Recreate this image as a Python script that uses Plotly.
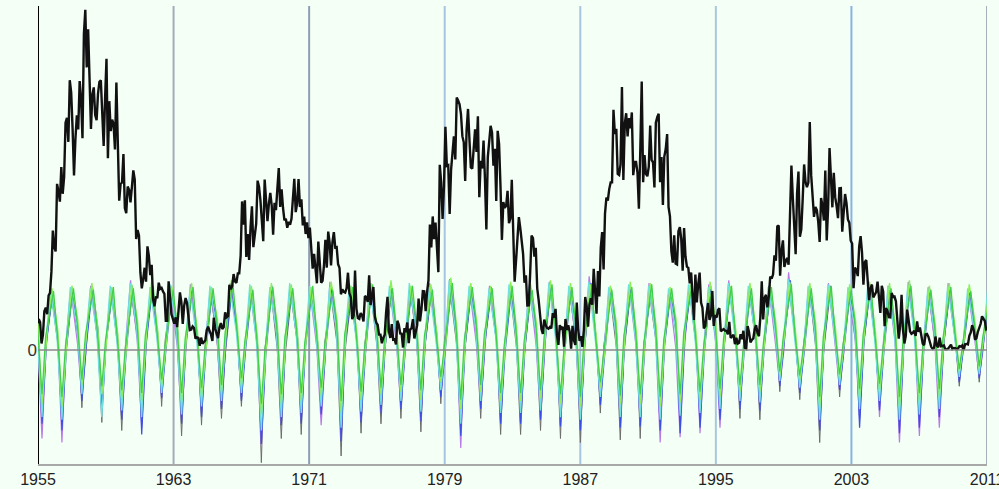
import plotly.graph_objects as go

# ---------------- data ----------------
# Monthly sunspot numbers, Jan 1955 .. Dec 2010 (black line)
sunspots = [
    23.1, 20.8, 4.9, 11.3, 28.9, 31.7, 26.7, 40.7, 42.7, 58.5, 89.2, 76.9,
    73.6, 124.0, 118.4, 110.7, 136.6, 116.6, 129.1, 169.6, 173.2, 155.3, 201.3, 192.1,
    165.0, 130.2, 157.4, 175.2, 164.6, 200.7, 187.2, 158.0, 235.8, 253.8, 210.9, 239.4,
    202.5, 164.9, 190.7, 196.0, 175.3, 171.5, 191.4, 200.2, 201.2, 181.5, 152.3, 187.6,
    217.4, 143.1, 185.7, 163.3, 172.0, 168.7, 149.6, 199.6, 145.2, 111.4, 124.0, 125.0,
    146.3, 106.0, 102.2, 122.0, 119.6, 110.2, 121.7, 134.1, 127.2, 82.8, 89.6, 85.6,
    57.9, 46.1, 53.0, 61.4, 51.0, 77.4, 70.2, 55.9, 63.6, 37.7, 32.6, 40.0,
    38.7, 50.3, 45.6, 46.4, 43.7, 42.0, 21.8, 21.8, 51.3, 39.5, 26.9, 23.2,
    19.8, 24.4, 17.1, 29.3, 43.0, 35.9, 19.6, 33.2, 38.8, 35.3, 23.4, 14.9,
    15.3, 17.7, 16.5, 8.6, 9.5, 9.1, 3.1, 9.3, 4.7, 6.1, 7.4, 15.1,
    17.5, 14.2, 11.7, 6.8, 24.1, 15.9, 11.9, 8.9, 16.8, 20.1, 15.8, 17.0,
    28.2, 24.4, 25.3, 48.7, 45.3, 47.7, 56.7, 51.2, 50.2, 57.2, 57.2, 70.4,
    110.9, 93.6, 111.8, 69.5, 86.5, 67.3, 91.5, 107.2, 76.8, 88.2, 94.3, 126.4,
    121.8, 111.9, 92.2, 81.2, 127.2, 110.3, 96.1, 109.3, 117.2, 107.7, 86.0, 109.8,
    104.4, 120.5, 135.8, 106.8, 120.0, 106.0, 96.8, 98.0, 91.3, 95.7, 93.5, 97.9,
    111.5, 127.8, 102.9, 109.5, 127.5, 106.8, 112.5, 93.0, 99.5, 86.6, 95.2, 83.5,
    91.3, 79.0, 60.7, 71.8, 57.5, 49.8, 81.0, 61.4, 50.2, 51.7, 63.2, 82.2,
    61.5, 88.4, 80.1, 63.2, 80.5, 88.0, 76.5, 76.8, 64.0, 61.3, 41.6, 45.3,
    43.4, 42.9, 46.0, 57.7, 42.4, 39.5, 23.1, 25.6, 59.3, 30.7, 23.9, 23.3,
    27.6, 26.0, 21.3, 40.3, 39.5, 36.0, 55.8, 33.6, 40.2, 47.1, 25.0, 20.5,
    18.9, 11.5, 11.5, 5.1, 9.0, 11.4, 28.2, 39.7, 13.9, 9.1, 19.4, 7.8,
    8.1, 4.3, 21.9, 18.8, 12.4, 12.2, 1.9, 16.4, 13.5, 20.6, 5.2, 15.3,
    16.4, 23.1, 8.7, 12.9, 18.6, 38.5, 21.4, 30.1, 44.0, 43.8, 29.1, 43.2,
    51.9, 93.6, 76.5, 99.7, 82.7, 95.1, 70.4, 58.1, 138.2, 125.1, 97.9, 122.7,
    166.6, 137.5, 138.0, 101.5, 134.4, 149.5, 159.4, 142.2, 188.4, 186.2, 183.3, 176.3,
    159.6, 155.0, 126.2, 164.1, 179.9, 157.3, 136.3, 135.4, 155.0, 164.7, 147.9, 174.4,
    114.0, 141.3, 135.5, 156.4, 127.5, 90.0, 143.8, 158.7, 167.3, 162.4, 137.5, 150.1,
    111.2, 163.6, 153.8, 122.0, 82.2, 110.4, 106.1, 107.6, 118.8, 94.7, 98.1, 127.0,
    84.3, 51.0, 66.5, 80.7, 99.2, 91.1, 82.2, 71.8, 50.3, 55.8, 33.3, 33.4,
    57.0, 85.4, 83.5, 69.7, 76.4, 46.1, 37.4, 25.5, 15.7, 12.0, 22.8, 18.7,
    16.5, 15.9, 17.2, 16.2, 27.5, 24.2, 30.7, 11.1, 3.9, 18.6, 16.2, 17.3,
    2.5, 23.2, 15.1, 18.5, 13.7, 1.1, 18.1, 7.4, 3.8, 35.4, 15.2, 6.8,
    10.4, 2.4, 14.7, 39.6, 33.0, 17.4, 33.9, 38.7, 33.9, 60.6, 39.9, 27.1,
    59.0, 40.0, 76.2, 88.0, 60.1, 101.8, 113.8, 111.6, 120.1, 125.1, 125.1, 179.2,
    161.3, 165.1, 131.4, 130.6, 138.5, 196.2, 126.9, 168.9, 176.7, 159.4, 173.0, 165.5,
    177.3, 130.5, 140.3, 140.3, 132.2, 105.4, 149.4, 200.3, 125.2, 145.5, 131.4, 129.7,
    136.9, 167.5, 141.9, 140.0, 121.3, 169.7, 173.7, 176.3, 125.3, 144.1, 108.2, 144.4,
    150.0, 161.1, 106.7, 99.8, 73.8, 65.2, 85.7, 64.5, 63.9, 88.7, 91.8, 82.6,
    59.3, 91.0, 69.8, 62.2, 61.3, 49.8, 57.9, 42.2, 22.4, 56.4, 35.6, 48.9,
    57.8, 35.5, 31.7, 16.1, 17.8, 28.0, 35.1, 22.5, 25.7, 44.0, 18.0, 26.2,
    24.2, 29.9, 31.1, 14.0, 14.5, 15.6, 14.5, 14.3, 11.8, 21.1, 9.0, 10.0,
    11.5, 4.4, 9.2, 4.8, 5.5, 11.8, 8.2, 14.4, 1.6, 0.9, 17.9, 13.3,
    5.7, 7.6, 8.7, 15.5, 18.5, 12.7, 10.4, 24.4, 51.3, 22.8, 39.0, 41.2,
    31.9, 40.3, 54.8, 53.4, 56.3, 70.7, 66.6, 92.2, 92.9, 55.5, 74.0, 81.9,
    62.0, 66.3, 68.8, 63.7, 106.4, 137.7, 113.5, 93.7, 71.5, 116.7, 133.2, 84.6,
    90.1, 112.9, 138.5, 125.5, 121.6, 124.9, 170.1, 130.5, 109.7, 99.4, 106.8, 104.4,
    95.6, 80.6, 113.5, 107.7, 96.6, 134.0, 81.8, 106.4, 150.7, 125.5, 106.5, 132.2,
    114.1, 107.4, 98.4, 120.7, 120.8, 88.3, 99.6, 116.4, 109.6, 97.5, 95.0, 81.6,
    79.5, 46.2, 61.5, 60.0, 55.2, 77.4, 85.0, 72.7, 48.8, 65.6, 67.2, 47.0,
    37.2, 46.0, 48.9, 39.3, 41.5, 43.2, 51.0, 40.9, 27.7, 48.0, 43.5, 17.9,
    31.3, 29.2, 24.5, 24.4, 42.6, 39.6, 39.9, 36.4, 22.1, 8.5, 18.0, 41.2,
    15.3, 4.9, 10.6, 30.2, 22.3, 13.9, 12.2, 12.9, 14.4, 10.5, 21.4, 13.6,
    16.9, 10.6, 4.8, 3.7, 11.7, 12.0, 10.0, 6.2, 2.4, 0.9, 1.7, 10.1,
    3.3, 2.1, 9.3, 2.9, 3.2, 3.4, 0.5, 0.5, 1.1, 2.9, 4.1, 0.8,
    1.5, 1.4, 0.7, 1.2, 2.9, 2.6, 3.5, 0.0, 4.4, 4.6, 4.2, 10.6,
    13.1, 18.6, 15.4, 7.9, 8.8, 13.5, 16.1, 19.6, 25.2, 23.5, 21.6, 14.5,
]
start_year = 1955

# Seasonal-cycle series, 48 cycles: value before each trough (pre), the trough,
# after it (post) and the following peak
cycle_start = 1955.236   # time of first trough (years)
cycle_len = 1.1767       # cycle length (years)

gray_pre = [10,4,12,6,2,8,14,5,9,3,11,7,0,6,12,4,8,2,10,5,13,3,9,6,1,7,11,4,8,2,10,6,12,3,7,9,5,14,8,2,10,6,4,8,11,3,7,10]
gray_trough = [-60,-55,-43,-54,-60,-55,-42,-64,-56,-51,-42,-84,-66,-63,-50,-79,-62,-55,-51,-61,-40,-62,-51,-63,
               -63,-60,-66,-69,-47,-67,-66,-58,-55,-52,-48,-51,-52,-31,-37,-69,-35,-50,-42,-58,-54,-48,-27,-24]
gray_post = [2,-4,6,0,-3,4,8,-2,3,-5,5,1,-6,2,6,-3,4,-2,5,0,7,-4,3,1,-5,2,6,-1,4,-3,5,0,6,-2,3,4,0,8,3,-4,5,1,-2,3,6,-1,2,5]
gray_peak = [38,40,42,40,39,41,43,40,38,42,40,41,39,43,40,38,42,40,41,39,40,42,38,41,
             40,43,39,41,40,42,38,40,41,39,42,40,38,41,43,40,39,42,40,41,38,40,39,37]

purple_pre = [8,12,5,10,14,6,9,3,11,7,13,4,10,8,2,12,6,9,4,11,7,14,5,8,12,3,9,6,10,13,4,8,2,11,6,9,12,5,7,10,3,8,13,6,9,4,11,7]
purple_trough = [-66,-69,-35,-45,-50,-58,-35,-52,-46,-42,-36,-72,-55,-52,-56,-66,-52,-46,-43,-52,-34,-73,-43,-53,
                 -53,-50,-55,-58,-40,-56,-55,-69,-65,-62,-58,-43,-44,-26,-31,-58,-30,-52,-50,-69,-64,-58,-23,-20]
purple_post = [0,5,-2,4,7,-1,3,-4,5,1,6,-3,4,2,-5,6,0,3,-2,5,1,8,-1,2,6,-3,3,0,4,7,-2,2,-4,5,0,3,6,-1,1,4,-3,2,7,0,3,-2,5,1]
purple_peak = [44,46,48,45,52,47,44,49,46,50,45,47,48,44,51,46,49,45,47,50,53,46,48,45,
               49,51,47,55,46,48,50,45,47,49,52,46,48,58,47,50,46,49,48,51,47,50,45,44]

blue_pre = [12,6,9,14,4,10,7,13,5,11,8,2,12,9,6,14,3,10,7,12,5,9,13,4,8,11,6,10,3,12,7,9,14,5,10,6,8,12,4,11,7,13,5,9,6,10,8,12]
blue_trough = [-55,-60,-38,-46,-52,-63,-36,-55,-50,-44,-38,-70,-56,-55,-48,-68,-54,-47,-44,-53,-35,-64,-44,-55,
               -55,-52,-57,-60,-41,-58,-57,-60,-62,-58,-52,-44,-45,-27,-32,-60,-30,-58,-45,-62,-58,-50,-24,-21]
blue_post = [5,0,3,7,-2,4,1,6,-1,5,2,-4,6,3,0,7,-3,4,1,5,-1,3,6,-2,2,5,0,4,-3,6,1,3,7,-1,4,0,2,6,-2,5,1,6,-1,3,0,4,2,6]
blue_peak = [43,45,47,44,48,46,45,47,44,46,45,48,46,44,47,45,48,46,44,47,49,45,47,44,
             46,48,45,50,46,47,49,44,46,48,47,45,46,52,45,48,44,47,46,49,45,47,43,42]

cyan_pre = [15,10,18,12,8,16,11,14,9,17,13,7,15,12,10,18,9,14,11,16,8,13,17,10,12,15,9,14,7,16,11,13,18,9,14,10,12,16,8,15,11,17,9,13,10,14,12,15]
cyan_trough = [-50,-52,-33,-50,-45,-50,-32,-48,-42,-38,-32,-60,-50,-47,-42,-58,-46,-41,-38,-46,-30,-55,-38,-47,
               -47,-45,-50,-52,-35,-50,-50,-52,-49,-47,-44,-38,-39,-23,-28,-52,-26,-44,-38,-52,-48,-44,-20,-18]
cyan_post = [8,3,10,5,1,9,4,7,2,10,6,0,8,5,3,11,2,7,4,9,1,6,10,3,5,8,2,7,0,9,4,6,11,2,7,3,5,9,1,8,4,10,2,6,3,7,5,8]
cyan_peak = [45,47,46,48,50,47,49,46,48,47,49,46,50,48,47,49,46,48,50,47,52,48,46,49,
             47,50,48,51,47,49,48,46,49,47,50,48,47,53,48,49,47,50,48,49,46,48,46,45]

lgreen_pre = [20,14,22,17,12,21,15,19,13,23,18,11,20,16,14,22,12,19,15,21,13,18,22,14,17,20,12,19,10,21,15,18,23,13,19,14,16,21,12,20,15,22,13,18,14,19,16,20]
lgreen_trough = [-40,-42,-26,-33,-36,-38,-26,-38,-34,-31,-26,-48,-40,-38,-34,-46,-37,-33,-31,-37,-24,-44,-31,-38,
                 -38,-36,-40,-42,-28,-40,-40,-42,-39,-37,-35,-31,-31,-19,-22,-42,-21,-35,-30,-42,-38,-35,-16,-14]
lgreen_post = [12,6,14,9,4,13,7,11,5,15,10,3,12,8,6,14,4,11,7,13,5,10,14,6,9,12,4,11,2,13,7,10,15,5,11,6,8,13,4,12,7,14,5,10,6,11,8,12]
lgreen_peak = [46,48,50,47,49,51,48,50,47,52,48,50,49,47,51,48,50,52,48,49,54,50,48,51,
               49,52,50,49,48,51,50,47,49,51,48,50,49,51,50,48,49,51,50,52,48,50,49,47]

green_pre = [18,12,20,15,10,19,13,17,11,21,16,9,18,14,12,20,10,17,13,19,11,16,20,12,15,18,10,17,8,19,13,16,21,11,17,12,14,19,10,18,13,20,11,16,12,17,14,18]
green_trough = [-33,-35,-22,-27,-30,-32,-22,-32,-28,-26,-21,-40,-33,-32,-28,-38,-31,-28,-26,-30,-20,-37,-26,-32,
                -32,-30,-33,-35,-24,-34,-33,-35,-33,-31,-29,-26,-26,-16,-19,-35,-18,-29,-25,-35,-32,-29,-14,-12]
green_post = [10,4,12,7,2,11,5,9,3,13,8,1,10,6,4,12,2,9,5,11,3,8,12,4,7,10,2,9,0,11,5,8,13,3,9,4,6,11,2,10,5,12,3,8,4,9,6,10]
green_peak = [44,46,45,47,46,48,45,47,46,49,45,47,46,48,45,47,49,46,48,45,50,47,46,48,
              45,49,47,48,45,47,49,46,47,45,48,46,47,49,46,48,45,47,46,48,45,47,44,43]

tick_years = [1955, 1963, 1971, 1979, 1987, 1995, 2003, 2011]
tick_labels = [str(y) for y in tick_years]
grid_colors = ["#000000", "#a3adb8", "#8e9fb3", "#a9c4e0", "#a9c4e0", "#a9c6e4", "#86b4e2", "#a6b0ba"]

# ---------------- figure ----------------
fig = go.Figure()

def cycle_series(pre, troughs, post, peaks, pre_off, post_off, peak_phase):
    xs, ys = [], []
    for k in range(len(troughs)):
        t0 = cycle_start + k * cycle_len
        xs += [t0 - pre_off * cycle_len, t0, t0 + post_off * cycle_len, t0 + peak_phase * cycle_len]
        ys += [pre[k], troughs[k], post[k], peaks[k]]
    return xs, ys

colored = [
    (gray_pre, gray_trough, gray_post, gray_peak, 0.20, 0.18, 0.50, "#6d6d6d", 1.0),
    (purple_pre, purple_trough, purple_post, purple_peak, 0.22, 0.20, 0.44, "#b77ae8", 1.2),
    (blue_pre, blue_trough, blue_post, blue_peak, 0.18, 0.22, 0.53, "#3b4fe6", 1.2),
    (cyan_pre, cyan_trough, cyan_post, cyan_peak, 0.25, 0.20, 0.42, "#6fe0e0", 1.3),
    (lgreen_pre, lgreen_trough, lgreen_post, lgreen_peak, 0.20, 0.25, 0.50, "#8cf05a", 1.4),
    (green_pre, green_trough, green_post, green_peak, 0.23, 0.18, 0.58, "#3fd04a", 1.2),
]
for pre, tr, post, pk, a, b, ph, col, w in colored:
    xs, ys = cycle_series(pre, tr, post, pk, a, b, ph)
    fig.add_trace(go.Scatter(x=xs, y=ys, mode="lines",
                             line=dict(color=col, width=w), hoverinfo="skip",
                             showlegend=False))

sx = [start_year + (i + 0.5) / 12 for i in range(len(sunspots))]
fig.add_trace(go.Scatter(x=sx, y=sunspots, mode="lines",
                         line=dict(color="#111111", width=2.4), showlegend=False))

for yr, col in zip(tick_years, grid_colors):
    fig.add_vline(x=yr, line=dict(color=col, width=2), layer="below")

fig.add_hline(y=0, line=dict(color="#8a8a8a", width=1.5), layer="above")

bg = "#f4fff6"
fig.update_layout(
    width=999, height=489,
    margin=dict(l=38, r=12, t=6, b=25, autoexpand=False),
    paper_bgcolor=bg, plot_bgcolor=bg,
    font=dict(family="Liberation Sans, Arial, sans-serif", color="#222222"),
    xaxis=dict(range=[1955, 2011], tickvals=tick_years, ticktext=tick_labels,
               showgrid=False, zeroline=False, showline=True, linecolor="#a8a8a8",
               linewidth=2, ticks="", tickfont=dict(size=16), ticklabelstandoff=0,
               ticklabeloverflow="allow", automargin=False),
    yaxis=dict(range=[-85, 256.7], tickvals=[0], ticktext=["0"], showgrid=False,
               zeroline=False, showline=False, ticks="", automargin=False,
               tickfont=dict(size=17, color="#333333")),
)

fig.write_html("out.html")
